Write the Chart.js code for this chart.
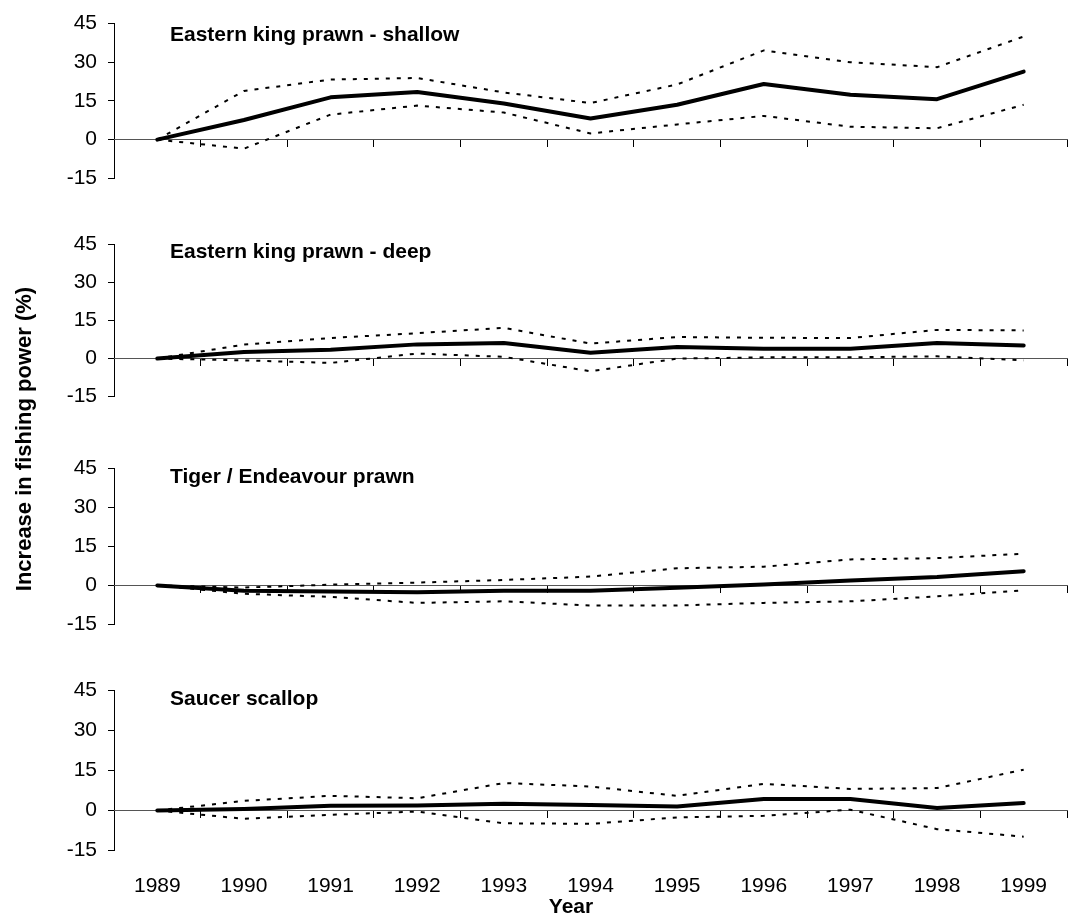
<!DOCTYPE html>
<html><head><meta charset="utf-8">
<script src="https://cdn.jsdelivr.net/npm/chart.js@4.4.0/dist/chart.umd.min.js"></script>
<style>
html,body{margin:0;padding:0;background:#fff;}
#wrap{position:relative;width:1078px;height:917px;overflow:hidden;background:#fff;}
#wrap canvas{position:absolute;left:0;top:0;}
</style></head><body>
<div id="wrap">
<canvas id="c1" width="1078" height="917"></canvas>
<canvas id="c2" width="1078" height="917"></canvas>
<canvas id="c3" width="1078" height="917"></canvas>
<canvas id="c4" width="1078" height="917"></canvas>
</div>
<script>
// ---- data ----
const years = ['1989','1990','1991','1992','1993','1994','1995','1996','1997','1998','1999'];
const yTicks = [-15, 0, 15, 30, 45];
const panelTitles = ['Eastern king prawn - shallow','Eastern king prawn - deep','Tiger / Endeavour prawn','Saucer scallop'];
const yAxisTitle = 'Increase in fishing power (%)';
const xAxisTitle = 'Year';

const shallowEst   = [0, 7.6, 16.4, 18.5, 14.0, 8.2, 13.5, 21.6, 17.4, 15.7, 26.4];
const shallowUpper = [0, 18.9, 23.3, 23.9, 18.3, 14.2, 21.4, 34.6, 30.0, 28.1, 40.0];
const shallowLower = [0, -3.5, 9.7, 13.2, 10.5, 2.4, 5.9, 9.2, 5.0, 4.4, 13.5];

const deepEst   = [0, 2.6, 3.5, 5.6, 6.1, 2.3, 4.6, 3.9, 3.9, 6.1, 5.2];
const deepUpper = [0, 5.5, 8.1, 10.0, 12.1, 5.9, 8.5, 8.2, 8.1, 11.3, 11.1];
const deepLower = [0, -0.7, -1.7, 2.0, 0.7, -5.0, 0.0, 0.5, 0.5, 0.9, -0.7];

const tigerEst   = [0, -2.0, -2.3, -2.6, -2.0, -2.0, -0.9, 0.4, 1.9, 3.2, 5.5];
const tigerUpper = [0, -0.8, 0.3, 1.1, 2.1, 3.4, 6.6, 7.2, 10.0, 10.5, 12.2];
const tigerLower = [0, -3.2, -4.4, -6.7, -6.1, -7.7, -7.7, -6.7, -6.1, -4.2, -1.9];

const scallopEst   = [0, 0.6, 1.8, 1.9, 2.5, 2.1, 1.5, 4.3, 4.3, 0.9, 2.8];
const scallopUpper = [0, 3.6, 5.5, 4.6, 10.3, 9.0, 5.5, 10.0, 8.1, 8.4, 15.3];
const scallopLower = [0, -3.1, -1.6, -0.4, -4.8, -5.0, -2.6, -2.0, 0.3, -7.0, -9.8];

// ---- layout ----
const FONT = '"Liberation Sans", Arial, Helvetica, sans-serif';
const W = 1078, H = 917;
const plotLeft = 114, plotRight = 1067;
const panels = [
  {id:'c1', top:19.3,  bottom:178.3, titleY:41,    est:shallowEst, up:shallowUpper, lo:shallowLower},
  {id:'c2', top:244.3, bottom:396.7, titleY:258.3, est:deepEst,    up:deepUpper,    lo:deepLower},
  {id:'c3', top:468.3, bottom:624.5, titleY:482.7, est:tigerEst,   up:tigerUpper,   lo:tigerLower},
  {id:'c4', top:690.5, bottom:850.5, titleY:705,   est:scallopEst, up:scallopUpper, lo:scallopLower}
];

Chart.defaults.font.family = FONT;
Chart.defaults.font.size = 21;
Chart.defaults.color = '#000';

panels.forEach((p, i) => {
  const last = i === panels.length - 1;
  const x2Height = 66;
  const dotted = {borderColor:'#000', borderWidth:2, borderDash:[4,7], pointRadius:0, fill:false, tension:0};
  const scales = {
    y: {
      min: -15, max: 45,
      afterBuildTicks: s => { s.ticks = yTicks.map(v => ({value: v})); },
      afterFit: s => { s.width = plotLeft; },
      ticks: {padding: 11, color:'#000', font:{size:21}},
      grid: {drawOnChartArea:false, drawTicks:true, tickLength:6, color:'#000'},
      border: {color:'#000', width:1}
    },
    x: {
      type: 'category',
      position: {y: 0},
      offset: true,
      ticks: {display:false},
      grid: {offset:true, drawOnChartArea:false, drawTicks:true, tickLength:7, color:'#000'},
      border: {color:'#555', width:1}
    }
  };
  if (last) {
    scales.x2 = {
      type: 'category',
      position: 'bottom',
      offset: true,
      afterFit: s => { s.height = x2Height; },
      ticks: {padding: 23, color:'#000', font:{size:21}, maxRotation:0, autoSkip:false},
      grid: {display:false, drawTicks:false},
      border: {display:false}
    };
  }
  const titlePlugin = {
    id: 'panelTitle' + i,
    afterDraw(chart) {
      const ctx = chart.ctx;
      ctx.save();
      ctx.fillStyle = '#000';
      ctx.font = 'bold 21px ' + FONT;
      ctx.textAlign = 'left';
      ctx.textBaseline = 'alphabetic';
      ctx.fillText(panelTitles[i], 170, p.titleY);
      if (last) {
        ctx.textAlign = 'center';
        ctx.fillText(xAxisTitle, 571, 913);
        ctx.font = 'bold 22px ' + FONT;
        ctx.translate(31, 439);
        ctx.rotate(-Math.PI / 2);
        ctx.fillText(yAxisTitle, 0, 0);
      }
      ctx.restore();
    }
  };
  new Chart(document.getElementById(p.id), {
    type: 'line',
    data: {
      labels: years,
      datasets: [
        Object.assign({label:'Upper', data:p.up}, dotted),
        Object.assign({label:'Lower', data:p.lo}, dotted),
        {label:'Estimate', data:p.est, borderColor:'#000', borderWidth:4, pointRadius:0, fill:false, tension:0, borderCapStyle:'round', borderJoinStyle:'round'}
      ]
    },
    options: {
      responsive: false,
      animation: false,
      devicePixelRatio: 1,
      layout: {padding: {left:0, right: W - plotRight, top: p.top, bottom: last ? Math.max(0, H - p.bottom - x2Height) : (H - p.bottom)}},
      plugins: {legend:{display:false}, tooltip:{enabled:false}, title:{display:false}},
      scales: scales
    },
    plugins: [titlePlugin]
  });
});
</script>
</body></html>
